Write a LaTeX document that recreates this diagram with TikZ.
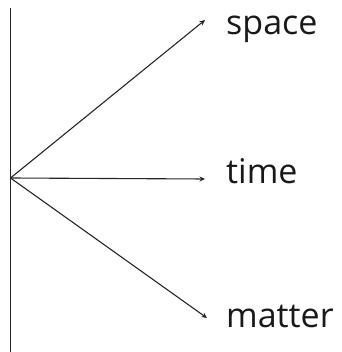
\documentclass[tikz,border=0pt]{standalone}
\usepackage{fontspec}
\setmainfont{Open Sans}
\usetikzlibrary{arrows.meta}
\tikzset{
  >={Stealth[length=5.5pt,width=5pt]},
  lbl/.style={anchor=base west,inner sep=0pt,font=\fontsize{34}{37}\selectfont,text=black!90},
  arr/.style={->,line width=1.1pt,draw=black!85},
}
\begin{document}
\begin{tikzpicture}[x=1pt,y=-1pt]
\useasboundingbox (0,0) rectangle (341,352);
\coordinate (top) at (10.5,8);
\coordinate (bot) at (10.5,352);
\coordinate (o) at (10.5,178);
\coordinate (sp) at (205,20);
\coordinate (ti) at (205,179);
\coordinate (ma) at (207,318);
\node[lbl] (space) at (226,35) {space};
\node[lbl] (time) at (226,183) {time};
\node[lbl] (matter) at (226,327) {matter};
\draw[line width=1.5pt,draw=black!85] (top) -- (bot);
\draw[arr] (o) -- (sp);
\draw[arr] (o) -- (ti);
\draw[arr] (o) -- (ma);
\end{tikzpicture}
\end{document}
